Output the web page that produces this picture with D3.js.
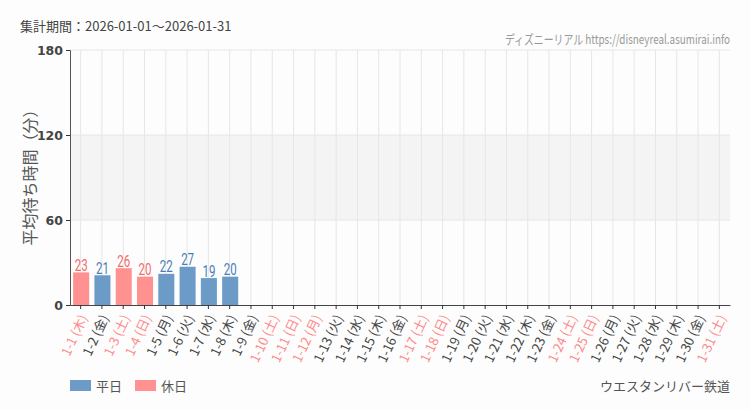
<!DOCTYPE html>
<html>
<head>
<meta charset="utf-8">
<script src="https://cdn.jsdelivr.net/npm/d3@7"></script>
<style>
  body { margin: 0; background: #fcfdfc; }
  svg { display: block; }
</style>
</head>
<body>
<div id="chart"></div>
<script>
// 1. SETUP
const width = 750;
const height = 410;
const margin = { top: 50, right: 20, bottom: 105, left: 70 };

// --- DATA ---
const days = ["1-1", "1-2", "1-3", "1-4", "1-5", "1-6", "1-7", "1-8", "1-9", "1-10",
    "1-11", "1-12", "1-13", "1-14", "1-15", "1-16", "1-17", "1-18", "1-19", "1-20",
    "1-21", "1-22", "1-23", "1-24", "1-25", "1-26", "1-27", "1-28", "1-29", "1-30", "1-31"];
const weekdays = ["木", "金", "土", "日", "月", "火", "水", "木", "金", "土",
    "日", "月", "火", "水", "木", "金", "土", "日", "月", "火",
    "水", "木", "金", "土", "日", "月", "火", "水", "木", "金", "土"];
const holidays = [1, 0, 1, 1, 0, 0, 0, 0, 0, 1,
    1, 1, 0, 0, 0, 0, 1, 1, 0, 0,
    0, 0, 0, 1, 1, 0, 0, 0, 0, 0, 1];
const waits = [23, 21, 26, 20, 22, 27, 19, 20];
const yTicks = [0, 60, 120, 180];

const colors = { weekday: "#6c9bc8", holiday: "#ff9191" };
const textColors = { weekday: "#4a7db8", holiday: "#f46a6a" };
const jp = "'Noto Sans CJK JP', 'Noto Sans', sans-serif";
const narrow = "'Roboto', 'Noto Sans CJK JP', sans-serif"; // squeezed with scaleX below

const data = days.map((d, i) => ({
    day: d,
    label: d + " (" + weekdays[i] + ")",
    holiday: holidays[i] === 1,
    value: i < waits.length ? waits[i] : null
}));

const svg = d3.select("#chart")
    .append("svg")
    .attr("width", width)
    .attr("height", height);

// --- SCALES ---
const x = d3.scaleBand()
    .domain(days)
    .range([margin.left, width - margin.right])
    .paddingInner(0.2)
    .paddingOuter(0.1);

const y = d3.scaleLinear()
    .domain([0, 180])
    .range([height - margin.bottom, margin.top]);

// shaded band between 60 and 120
svg.append("rect")
    .attr("x", margin.left)
    .attr("width", width - margin.right - margin.left)
    .attr("y", y(120))
    .attr("height", y(60) - y(120))
    .attr("fill", "#f4f4f4");

// vertical grid
svg.append("g")
    .selectAll("line")
    .data(days)
    .join("line")
    .attr("x1", d => x(d) + x.bandwidth() / 2)
    .attr("x2", d => x(d) + x.bandwidth() / 2)
    .attr("y1", y(180))
    .attr("y2", y(0))
    .attr("stroke", "#e6e6e6");

// horizontal grid
svg.append("g")
    .selectAll("line")
    .data(yTicks.slice(1))
    .join("line")
    .attr("x1", margin.left)
    .attr("x2", width - margin.right)
    .attr("y1", d => y(d))
    .attr("y2", d => y(d))
    .attr("stroke", "#e6e6e6");

// --- BARS ---
const withValue = data.filter(d => d.value !== null);

svg.append("g")
    .selectAll("rect")
    .data(withValue)
    .join("rect")
    .attr("x", d => x(d.day) + 1)
    .attr("width", x.bandwidth() - 1)
    .attr("y", d => y(d.value))
    .attr("height", d => y(0) - y(d.value))
    .attr("fill", d => d.holiday ? colors.holiday : colors.weekday);

svg.append("g")
    .selectAll("text")
    .data(withValue)
    .join("text")
    .attr("transform", d => `translate(${x(d.day) + x.bandwidth() / 2 + 0.5},${y(d.value) - 1.5}) scale(0.72,1)`)
    .attr("text-anchor", "middle")
    .attr("font-family", narrow)
    .attr("font-size", "16px")
    .attr("fill", d => d.holiday ? textColors.holiday : textColors.weekday)
    .text(d => d.value);

// --- AXES ---
const yAxis = svg.append("g")
    .attr("transform", `translate(${margin.left},0)`)
    .call(d3.axisLeft(y).tickValues(yTicks).tickSize(4).tickPadding(3));
yAxis.select(".domain").attr("stroke", "#555");
yAxis.selectAll(".tick line").attr("stroke", "#333");
yAxis.selectAll("text")
    .attr("font-family", "'DejaVu Sans', sans-serif")
    .attr("font-size", "12.5px")
    .attr("font-weight", "bold")
    .attr("fill", "#444");

const xAxis = svg.append("g")
    .attr("transform", `translate(0,${y(0)})`)
    .call(d3.axisBottom(x).tickSize(4).tickSizeOuter(0).tickFormat(""));
xAxis.select(".domain").attr("stroke", "#444");
xAxis.selectAll(".tick line").attr("stroke", "#333");

svg.append("g")
    .selectAll("text")
    .data(data)
    .join("text")
    .attr("transform", d => `translate(${x(d.day) + x.bandwidth() / 2 + 4},${y(0) + 11}) rotate(-65)`)
    .attr("text-anchor", "end")
    .attr("dominant-baseline", "middle")
    .attr("font-family", jp)
    .attr("font-size", "13px")
    .attr("fill", d => d.holiday ? "#ff8a8a" : "#444")
    .text(d => d.label);

// y label
svg.append("text")
    .attr("transform", `translate(36,${(y(0) + y(180)) / 2 - 4}) rotate(-90)`)
    .attr("text-anchor", "middle")
    .attr("font-family", jp)
    .attr("font-size", "16px")
    .attr("fill", "#555")
    .text("平均待ち時間（分）");

// --- TITLES ---
svg.append("text")
    .attr("x", 20)
    .attr("y", 31)
    .attr("font-family", jp)
    .attr("font-size", "13px")
    .attr("fill", "#444")
    .text("集計期間：2026-01-01～2026-01-31");

svg.append("text")
    .attr("transform", `translate(${width - margin.right},44) scale(0.76,1)`)
    .attr("text-anchor", "end")
    .attr("font-family", jp)
    .attr("font-size", "13px")
    .attr("fill", "#999")
    .text("ディズニーリアル https://disneyreal.asumirai.info");

// --- LEGEND ---
const legendItems = [
    { name: "平日", color: colors.weekday, x: 70 },
    { name: "休日", color: colors.holiday, x: 135 }
];
const legend = svg.append("g");
legend.selectAll("rect")
    .data(legendItems)
    .join("rect")
    .attr("x", d => d.x)
    .attr("y", 380)
    .attr("width", 21)
    .attr("height", 11)
    .attr("fill", d => d.color);
legend.selectAll("text")
    .data(legendItems)
    .join("text")
    .attr("x", d => d.x + 26)
    .attr("y", 391)
    .attr("font-family", jp)
    .attr("font-size", "13px")
    .attr("fill", "#555")
    .text(d => d.name);

svg.append("text")
    .attr("x", width - margin.right)
    .attr("y", 391)
    .attr("text-anchor", "end")
    .attr("font-family", jp)
    .attr("font-size", "13px")
    .attr("fill", "#555")
    .text("ウエスタンリバー鉄道");
</script>
</body>
</html>
